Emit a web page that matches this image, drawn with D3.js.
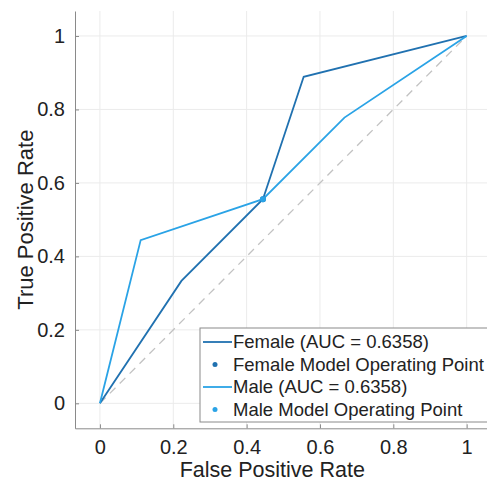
<!DOCTYPE html>
<html>
<head>
<meta charset="utf-8">
<script src="https://cdn.jsdelivr.net/npm/d3@7"></script>
<style>
  body { margin: 0; background: #fff; }
  svg { font-family: "Liberation Sans", Arial, sans-serif; }
</style>
</head>
<body>
<svg id="roc"></svg>
<script>
var width = 487;
var height = 484;

// ROC curve points (false positive rate, true positive rate)
var femaleFPR = [0, 0.2222, 0.4444, 0.5556, 1];
var femaleTPR = [0, 0.3333, 0.5556, 0.8889, 1];
var maleFPR = [0, 0.1111, 0.4444, 0.6667, 1];
var maleTPR = [0, 0.4444, 0.5556, 0.7778, 1];

var femaleOp = [0.4444, 0.5556];
var maleOp = [0.4444, 0.5556];

var ticks = [0, 0.2, 0.4, 0.6, 0.8, 1];
var legendLabels = ["Female (AUC = 0.6358)", "Female Model Operating Point",
                    "Male (AUC = 0.6358)", "Male Model Operating Point"];

var femaleColor = "#2071b0";
var maleColor = "#2aa3e6";

var xScale = d3.scaleLinear()
               .domain([-0.068, 1.068])
               .range([75, 491.6]);

var yScale = d3.scaleLinear()
               .domain([-0.068, 1.068])
               .range([428.3, 11]);

var svg = d3.select("#roc")
            .attr("width", width)
            .attr("height", height);

// grid
svg.append("g")
   .selectAll("line")
   .data(ticks)
   .enter()
   .append("line")
     .attr("x1", d => xScale(d)).attr("x2", d => xScale(d))
     .attr("y1", yScale(1.068)).attr("y2", yScale(-0.068))
     .attr("stroke", "#ebebeb");

svg.append("g")
   .selectAll("line")
   .data(ticks)
   .enter()
   .append("line")
     .attr("y1", d => yScale(d)).attr("y2", d => yScale(d))
     .attr("x1", xScale(-0.068)).attr("x2", xScale(1.068))
     .attr("stroke", "#ebebeb");

var xAxis = d3.axisBottom(xScale)
              .tickValues(ticks)
              .tickFormat(d3.format("~g"))
              .tickSize(-4)
              .tickSizeOuter(0)
              .tickPadding(12);

var yAxis = d3.axisLeft(yScale)
              .tickValues(ticks)
              .tickFormat(d3.format("~g"))
              .tickSize(-4)
              .tickSizeOuter(0)
              .tickPadding(10);

var gx = svg.append("g")
    .attr("transform", "translate(0," + yScale(-0.068) + ")")
    .call(xAxis);

var gy = svg.append("g")
    .attr("transform", "translate(" + xScale(-0.068) + ",0)")
    .call(yAxis);

[gx, gy].forEach(function (g) {
    g.select(".domain").attr("stroke", "#8a8a8a");
    g.selectAll(".tick line").attr("stroke", "#8a8a8a");
    g.selectAll(".tick text")
     .attr("fill", "#222")
     .style("font-size", "20px");
});

// chance line
svg.append("line")
   .attr("x1", xScale(0)).attr("y1", yScale(0))
   .attr("x2", xScale(1)).attr("y2", yScale(1))
   .attr("stroke", "#c2c2c2")
   .attr("stroke-width", 1.3)
   .attr("stroke-dasharray", "8,6");

var line = d3.line()
             .x(d => xScale(d[0]))
             .y(d => yScale(d[1]));

svg.append("path")
   .datum(d3.zip(femaleFPR, femaleTPR))
   .attr("d", line)
   .attr("fill", "none")
   .attr("stroke", femaleColor)
   .attr("stroke-width", 1.8);

svg.append("path")
   .datum(d3.zip(maleFPR, maleTPR))
   .attr("d", line)
   .attr("fill", "none")
   .attr("stroke", maleColor)
   .attr("stroke-width", 1.8);

svg.append("circle")
   .attr("cx", xScale(femaleOp[0])).attr("cy", yScale(femaleOp[1]))
   .attr("r", 3).attr("fill", femaleColor);

svg.append("circle")
   .attr("cx", xScale(maleOp[0])).attr("cy", yScale(maleOp[1]))
   .attr("r", 3).attr("fill", maleColor);

// axis labels
svg.append("text")
   .attr("x", xScale(0.47))
   .attr("y", 477)
   .attr("text-anchor", "middle")
   .attr("fill", "#222")
   .style("font-size", "21.5px")
   .text("False Positive Rate");

svg.append("text")
   .attr("transform", "translate(33," + yScale(0.5) + ") rotate(-90)")
   .attr("text-anchor", "middle")
   .attr("fill", "#222")
   .style("font-size", "22px")
   .text("True Positive Rate");

// legend
var legend = svg.append("g").attr("transform", "translate(200,328)");

legend.append("rect")
   .attr("x", 0).attr("y", 0)
   .attr("width", 288).attr("height", 94)
   .attr("fill", "#fff")
   .attr("stroke", "#8a8a8a");

var legendColors = [femaleColor, femaleColor, maleColor, maleColor];

legendLabels.forEach(function (label, i) {
    var y = 14 + i * 22.5;
    if (i % 2 == 0) {
        legend.append("line")
              .attr("x1", 3).attr("x2", 32)
              .attr("y1", y).attr("y2", y)
              .attr("stroke", legendColors[i])
              .attr("stroke-width", 1.8);
    } else {
        legend.append("circle")
              .attr("cx", 15).attr("cy", y)
              .attr("r", 2.5)
              .attr("fill", legendColors[i]);
    }
    legend.append("text")
          .attr("x", 33)
          .attr("y", y)
          .attr("dy", "0.35em")
          .attr("fill", "#222")
          .style("font-size", "18.5px")
          .text(label);
});
</script>
</body>
</html>
